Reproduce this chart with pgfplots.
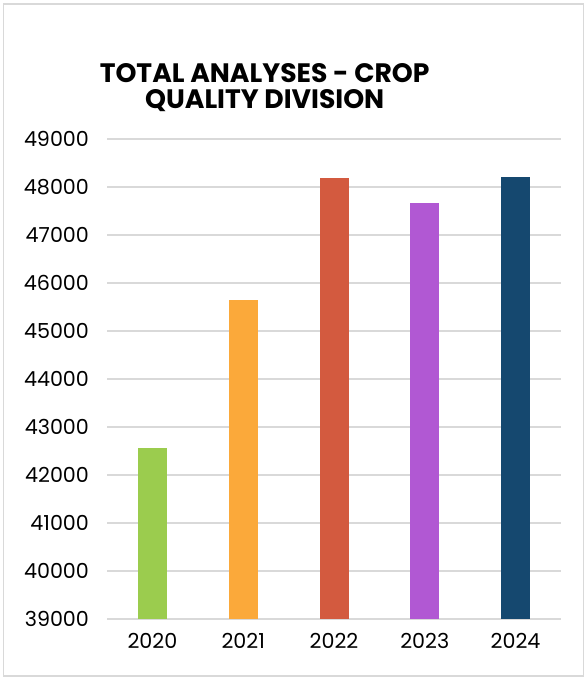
\documentclass[border=0pt]{standalone}
\usepackage{fontspec}
\setmainfont{Poppins}
\usepackage{pgfplots}
\pgfplotsset{compat=1.18}

\definecolor{c2020}{HTML}{9BCC4E}
\definecolor{c2021}{HTML}{FBA93A}
\definecolor{c2022}{HTML}{D35A3F}
\definecolor{c2023}{HTML}{B158D3}
\definecolor{c2024}{HTML}{15486F}
\definecolor{gridgray}{HTML}{D9D9D9}

\begin{document}
\begin{tikzpicture}
% page frame, 585 x 677 px at 0.75pt per px
\path (0,0) rectangle (438.75pt,-507.75pt);
\draw[gridgray, line width=1pt] (2.5pt,-3pt) rectangle (437.5pt,-507pt);

\node[font=\bfseries\fontsize{20}{19.5}\selectfont, align=center]
  at (198.5pt,-65.5pt) {TOTAL ANALYSES - CROP\\QUALITY DIVISION};

\begin{axis}[
    at={(80.25pt,-464.25pt)}, anchor=south west,
    scale only axis,
    width=340.5pt, height=360pt,
    xmin=-0.5, xmax=4.5,
    ymin=39000, ymax=49000,
    ytick={39000,40000,...,49000},
    xtick={0,1,2,3,4},
    xticklabels={2020,2021,2022,2023,2024},
    scaled y ticks=false,
    yticklabel={\pgfmathprintnumber[fixed,precision=0,1000 sep={}]{\tick}},
    ymajorgrids,
    grid style={gridgray, line width=1.1pt},
    axis line style={draw=none},
    major tick length=0pt,
    ybar, bar width=21.75pt, bar shift=0pt,
    /pgf/number format/assume math mode=true,
    tick label style={font=\fontsize{15.5}{17}\selectfont},
    yticklabel style={xshift=-10pt},
    xticklabel style={yshift=-7pt},
]
\addplot[draw=none, fill=c2020] coordinates {(0,42570)};
\addplot[draw=none, fill=c2021] coordinates {(1,45650)};
\addplot[draw=none, fill=c2022] coordinates {(2,48190)};
\addplot[draw=none, fill=c2023] coordinates {(3,47670)};
\addplot[draw=none, fill=c2024] coordinates {(4,48210)};
\end{axis}
\end{tikzpicture}
\end{document}
